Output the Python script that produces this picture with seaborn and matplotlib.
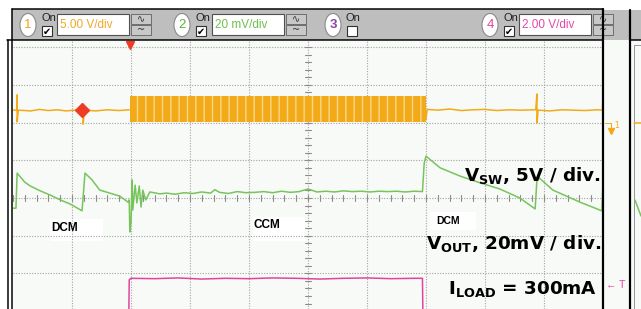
import matplotlib
matplotlib.use("Agg")
import matplotlib.pyplot as plt
import seaborn as sns
from matplotlib.patches import Rectangle, Ellipse

# ---- scope traces, in screen divisions (10 wide, centre line = 0) ----
# CH1 switch node, quiet parts either side of the load step
sw_left_t = [0.00, 0.05, 0.07, 0.07, 0.07, 0.09, 0.30, 0.45, 0.60, 0.75, 0.90, 1.05,
             1.17, 1.19, 1.19, 1.21, 1.40, 1.60, 1.80, 1.97]
sw_left_v = [2.33, 2.33, 2.33, 2.73, 2.02, 2.33, 2.31, 2.35, 2.32, 2.34, 2.31, 2.33,
             2.33, 2.33, 1.96, 2.33, 2.31, 2.34, 2.32, 2.34]
sw_right_t = [7.00, 7.02, 7.20, 7.40, 7.60, 7.80, 8.00, 8.20, 8.40, 8.60, 8.86,
              8.88, 8.88, 8.90, 9.10, 9.30, 9.50, 9.70, 9.90, 9.99, 10.0]
sw_right_v = [2.10, 2.35, 2.33, 2.36, 2.32, 2.34, 2.35, 2.32, 2.34, 2.33, 2.34,
              2.76, 1.99, 2.33, 2.31, 2.34, 2.33, 2.32, 2.34, 2.33, 2.66]
# CH1 switching burst envelope while the load is applied
burst_t = [1.98, 7.00]
burst_hi = [2.70, 2.70]
burst_lo = [2.02, 2.02]

# CH2 output voltage ripple
vout_t = [0.00, 0.05, 0.07, 0.20, 0.29, 0.46, 0.63, 0.80, 0.97, 1.17, 1.22, 1.34,
          1.47, 1.64, 1.81, 1.95, 1.97, 1.98, 2.00, 2.02, 2.03, 2.07, 2.10, 2.14,
          2.17, 2.20, 2.25, 2.32, 2.49, 2.60, 2.75, 2.90, 3.05, 3.20, 3.35, 3.42,
          3.50, 3.65, 3.80, 3.95, 4.10, 4.25, 4.40, 4.55, 4.70, 4.85, 5.00, 5.15,
          5.30, 5.45, 5.60, 5.75, 5.90, 6.05, 6.20, 6.35, 6.50, 6.65, 6.80, 6.94,
          6.97, 7.00, 7.24, 7.58, 7.92, 8.25, 8.59, 8.85, 8.88, 8.92, 9.15, 9.61,
          9.98, 10.0]
vout_v = [-0.27, -0.27, 0.66, 0.42, 0.32, 0.19, 0.08, -0.05, -0.16, -0.34, 0.66, 0.48,
          0.21, 0.13, 0.05, -0.11, -0.05, -0.90, -0.66, 0.48, -0.32, 0.34, -0.13, 0.32,
          -0.24, 0.21, -0.05, 0.16, 0.11, 0.13, 0.10, 0.14, 0.12, 0.16, 0.13, 0.22,
          0.15, 0.12, 0.17, 0.14, 0.15, 0.17, 0.14, 0.18, 0.15, 0.17, 0.24, 0.16,
          0.18, 0.16, 0.19, 0.17, 0.18, 0.16, 0.18, 0.17, 0.18, 0.16, 0.18, 0.17,
          0.93, 1.11, 0.80, 0.58, 0.40, 0.24, 0.00, -0.29, 0.48, 0.53, 0.21, -0.11,
          -0.34, 0.40]

# CH4 load current step
iload_t = [0.00, 1.96, 1.97, 2.00, 2.40, 2.80, 3.20, 3.60, 4.00, 4.40, 4.80,
           5.20, 5.60, 6.00, 6.40, 6.80, 6.94, 6.95, 10.0]
iload_v = [-3.50, -3.50, -2.17, -2.13, -2.14, -2.12, -2.15, -2.13, -2.14, -2.12, -2.13,
           -2.15, -2.13, -2.12, -2.14, -2.13, -2.13, -3.50, -3.50]

ch_names = ["1", "2", "3", "4"]
ch_scale = ["5.00 V/div", "20 mV/div", "", "2.00 V/div"]
ch_on = [True, True, False, True]
mode_labels = ["DCM", "CCM", "DCM"]

ORANGE = "#f3aa18"
ORANGE_LT = "#fbd78a"
GREEN = "#78c45c"
PINK = "#e2449c"
PURPLE = "#8a44a8"
BG = "#f7faf7"
GRID = "#a4a4a4"
TOOL = "#bebebe"

sns.set_theme(style="white")
plt.rcParams["font.family"] = ["DejaVu Sans"]
plt.rcParams["text.color"] = "black"
plt.rcParams["mathtext.fontset"] = "dejavusans"
plt.rcParams["hatch.linewidth"] = 1.0
plt.rcParams["hatch.color"] = ORANGE_LT

W, H = 641, 309
fig = plt.figure(figsize=(W / 100, H / 100), dpi=100)
fig.patch.set_facecolor("white")

# background layer in pixel coordinates
bg = fig.add_axes([0, 0, 1, 1], zorder=0)
bg.set_xlim(0, W)
bg.set_ylim(H, 0)
bg.axis("off")
bg.add_patch(Rectangle((12, 40), 618, 270, facecolor=BG, edgecolor="none"))
bg.add_patch(Rectangle((631, 40), 10, 270, facecolor=BG, edgecolor="none"))

# the scope screen itself
px_x, px_y = 59.0, 37.7
top_px = 41
ax = fig.add_axes([13 / W, 0, 590 / W, (H - top_px) / H], zorder=1)
ax.set_facecolor("none")
ax.set_xlim(0, 10)
ax.set_ylim(-(H - 198) / px_y, (198 - top_px) / px_y)
ax.axis("off")

dot = (0, (1, 1.4))
for k in range(1, 10):
    ax.axvline(k, color=GRID, lw=0.8, ls=dot, zorder=1)
for k in range(-2, 5):
    ax.axhline(k, color=GRID, lw=0.8, ls=dot, zorder=1)
# centre graticule minor ticks
for i in range(-15, 21):
    y = i * 0.2
    ax.plot([4.95, 5.05], [y, y], color="#8c8c8c", lw=0.8, zorder=1)
for i in range(0, 51):
    x = i * 0.2
    ax.plot([x, x], [-0.08, 0.08], color="#8c8c8c", lw=0.8, zorder=1)

# white label boxes (pixel coords on the background layer)
for (x0, y0, w, h) in [(50, 219, 53, 22), (253, 217, 52, 24), (430, 212, 46, 18)]:
    bg.add_patch(Rectangle((x0, y0), w, h, facecolor="white", edgecolor="none", zorder=3))

# traces
ax.fill_between(burst_t, burst_lo, burst_hi, facecolor=ORANGE, edgecolor=ORANGE_LT,
                hatch="||", lw=0, zorder=3)
sns.lineplot(x=sw_left_t, y=sw_left_v, ax=ax, color=ORANGE, lw=1.1, sort=False,
             estimator=None, zorder=4)
sns.lineplot(x=sw_right_t, y=sw_right_v, ax=ax, color=ORANGE, lw=1.1, sort=False,
             estimator=None, zorder=4)
sns.lineplot(x=vout_t, y=vout_v, ax=ax, color=GREEN, lw=1.1, sort=False,
             estimator=None, zorder=4)
sns.lineplot(x=iload_t, y=iload_v, ax=ax, color=PINK, lw=1.1, sort=False,
             estimator=None, zorder=4)
ax.plot([1.17], [2.33], marker="D", ms=7.5, color="#ee3b24", zorder=5)
ax.plot([1.98], [4.05], marker="v", ms=6, color="#ee3b24", zorder=5, clip_on=False)

# foreground layer: toolbar, frame, labels
fg = fig.add_axes([0, 0, 1, 1], zorder=2)
fg.set_facecolor("none")
fg.set_xlim(0, W)
fg.set_ylim(H, 0)
fg.axis("off")

fg.add_patch(Rectangle((12, 9), 591, 31, facecolor=TOOL, edgecolor="none"))
fg.add_patch(Rectangle((603, 10), 38, 30, facecolor=TOOL, edgecolor="none"))
k = 0.72
fg.plot([12, 603], [9, 9], color="black", lw=1.5 * k)
fg.plot([7, 603], [40, 40], color="black", lw=1.5 * k)
fg.plot([631, 641], [40, 40], color="black", lw=1.5 * k)
fg.plot([12, 12], [9, 309], color="black", lw=1.5 * k)
fg.plot([7.5, 7.5], [40, 309], color="black", lw=1.5 * k)
fg.plot([630, 630], [10, 309], color="black", lw=2.2 * k)
fg.plot([634, 634, 641], [309, 45, 45], color="#9a9a9a", lw=k)

cx_list = [28, 182, 333, 490]
field_x = [57, 212, None, 519]
num_col = ["#f0a020", "#5cb040", PURPLE, PINK]
txt_col = ["#f0a828", "#6cc04c", PURPLE, "#e448a4"]
for i in range(4):
    cx = cx_list[i]
    fg.add_patch(Ellipse((cx, 25), 16, 23, facecolor="white", edgecolor="#8a8a8a", lw=0.8))
    fg.text(cx, 25.5, ch_names[i], color=num_col[i], fontsize=9.5, ha="center",
            va="center", family="Liberation Sans", fontweight="bold" if i == 2 else "normal")
    fg.text(cx + 13, 18, "On", fontsize=8, ha="left", va="center",
            family="Liberation Sans", color="#202020")
    fg.add_patch(Rectangle((cx + 14, 26), 10, 10, facecolor="white",
                           edgecolor="#303030", lw=0.8))
    if ch_on[i]:
        fg.text(cx + 19, 31.5, "\u2714", fontsize=7, ha="center", va="center", color="black")
        fx = field_x[i]
        fg.add_patch(Rectangle((fx, 14), 72, 21, facecolor="white",
                               edgecolor="#505050", lw=0.8))
        fg.text(fx + 3, 24.5, ch_scale[i], color=txt_col[i], fontsize=8.5,
                family="Liberation Sans", ha="left", va="center")
        bx = fx + 74
        for j, sym in enumerate(["\u223f", "~"]):
            fg.add_patch(Rectangle((bx, 14 + j * 11), 20, 10, facecolor="#c8c8c8",
                                   edgecolor="#606060", lw=0.6))
            fg.text(bx + 10, 19 + j * 11, sym, fontsize=7, ha="center", va="center",
                    color="#303030")
fg.plot([603, 603], [9, 309], color="black", lw=2.2 * k, zorder=7)

# mode labels
fg.text(51, 231, mode_labels[0], fontsize=8.5, fontweight="bold", family="Liberation Sans",
        ha="left", va="baseline")
fg.text(253, 228, mode_labels[1], fontsize=8.5, fontweight="bold", family="Liberation Sans",
        ha="left", va="baseline")
fg.text(436, 224, mode_labels[2], fontsize=7.5, fontweight="bold", family="Liberation Sans",
        ha="left", va="baseline")

# channel annotations
fg.text(601, 181, r"V$_{\mathbf{SW}}$, 5V / div.", fontsize=13.2, fontweight="bold",
        ha="right", va="baseline", zorder=6)
fg.text(601, 249, r"V$_{\mathbf{OUT}}$, 20mV / div.", fontsize=13.2, fontweight="bold",
        ha="right", va="baseline", zorder=6)
fg.text(448, 294, r"I$_{\mathbf{LOAD}}$ = 300mA", fontsize=13.2, fontweight="bold",
        ha="left", va="baseline", zorder=6)

# ground / trigger level markers on the right edge
fg.plot([605, 611, 611], [123, 123, 129], color=ORANGE, lw=k)
fg.plot([611], [131], marker="v", ms=4, color=ORANGE)
fg.text(614, 126, "1", fontsize=5.5, color=ORANGE, ha="left", va="center")
fg.text(606, 285, "\u2190 T", fontsize=7.5, color=PINK, ha="left", va="center",
        family="Liberation Sans")
fg.plot([634, 641], [123, 123], color=ORANGE, lw=1.1)
fg.plot([635, 641], [200, 216], color=GREEN, lw=1.1)

fig.savefig("out.png", dpi=100)
